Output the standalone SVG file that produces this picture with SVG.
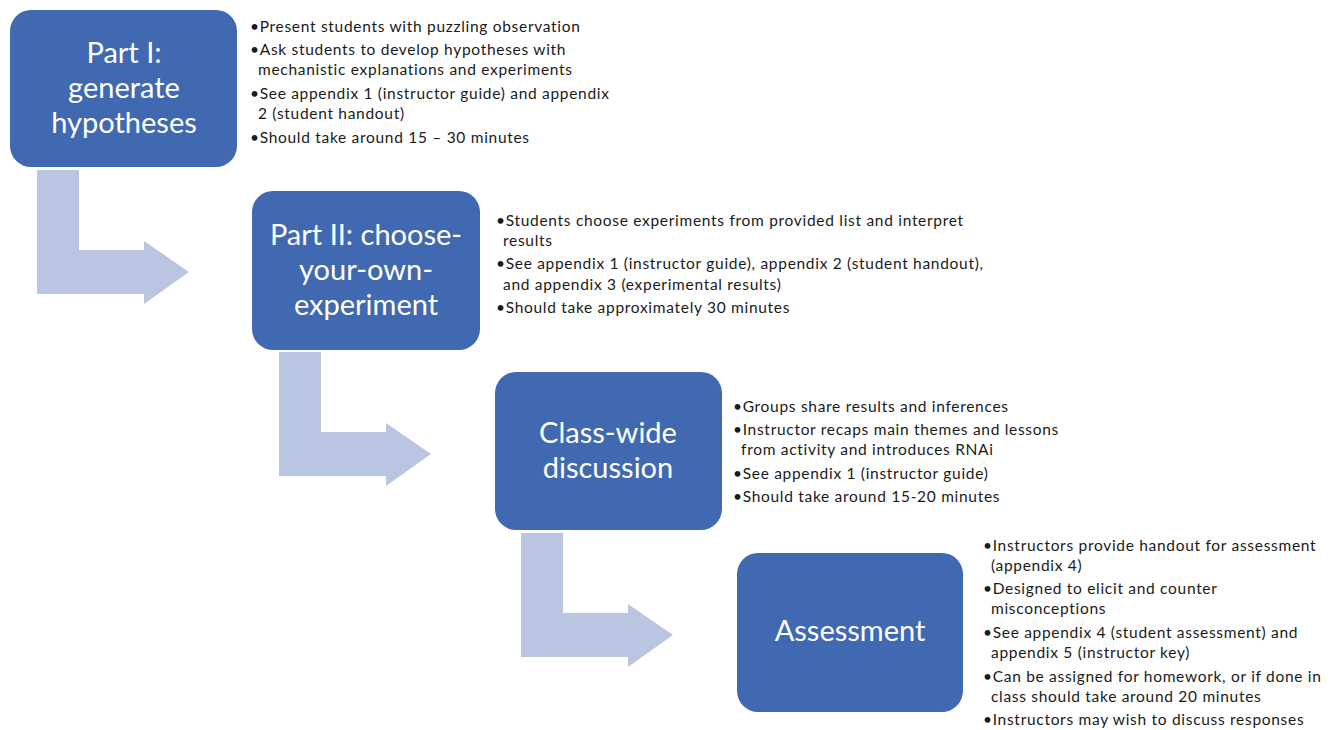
<svg xmlns="http://www.w3.org/2000/svg" width="1335" height="730" viewBox="0 0 1335 730">
<defs>
<style>
.box{fill:#4169B1}
.arrow{fill:#BAC5E1}
.title{font-family:Lato,"Liberation Sans",sans-serif;font-size:29px;fill:#ffffff;text-anchor:middle}
.b{font-family:Lato,"Liberation Sans",sans-serif;font-size:15.5px;letter-spacing:0.7px;fill:#1a1a1a}
</style>
</defs>
<rect width="1335" height="730" fill="#ffffff"/>
<g id="connectors">
<path class="arrow" d="M37,170 H79 V250 H144 V241 L189,272 L144,304 V294 H37 Z"/>
<path class="arrow" d="M279,352 H321 V432 H386 V423 L431,454 L386,486 V476 H279 Z"/>
<path class="arrow" d="M521,533 H563 V613 H628 V604 L673,635 L628,667 V657 H521 Z"/>
</g>
<g id="node1">
<rect class="box" x="10" y="10" width="227" height="157" rx="21"/>
<text class="title" x="124" y="63">Part I:</text>
<text class="title" x="124" y="98">generate</text>
<text class="title" x="124" y="133">hypotheses</text>
</g>
<g id="text1" class="b">
<text x="250" y="32">•Present students with puzzling observation</text>
<text x="250" y="55">•Ask students to develop hypotheses with</text>
<text x="258" y="75">mechanistic explanations and experiments</text>
<text x="250" y="99">•See appendix 1 (instructor guide) and appendix</text>
<text x="258" y="119">2 (student handout)</text>
<text x="250" y="143">•Should take around 15 – 30 minutes</text>
</g>
<g id="node2">
<rect class="box" x="252" y="191" width="228" height="159" rx="21"/>
<text class="title" x="366" y="245">Part II: choose-</text>
<text class="title" x="366" y="280">your-own-</text>
<text class="title" x="366" y="315">experiment</text>
</g>
<g id="text2" class="b">
<text x="496" y="226">•Students choose experiments from provided list and interpret</text>
<text x="503" y="246">results</text>
<text x="496" y="269">•See appendix 1 (instructor guide), appendix 2 (student handout),</text>
<text x="503" y="290">and appendix 3 (experimental results)</text>
<text x="496" y="313">•Should take approximately 30 minutes</text>
</g>
<g id="node3">
<rect class="box" x="495" y="372" width="227" height="158" rx="21"/>
<text class="title" x="608" y="443">Class-wide</text>
<text class="title" x="608" y="478">discussion</text>
</g>
<g id="text3" class="b">
<text x="733" y="412">•Groups share results and inferences</text>
<text x="733" y="435">•Instructor recaps main themes and lessons</text>
<text x="741" y="455">from activity and introduces RNAi</text>
<text x="733" y="479">•See appendix 1 (instructor guide)</text>
<text x="733" y="502">•Should take around 15-20 minutes</text>
</g>
<g id="node4">
<rect class="box" x="737" y="553" width="226" height="159" rx="21"/>
<text class="title" x="850" y="641">Assessment</text>
</g>
<g id="text4" class="b">
<text x="983" y="551">•Instructors provide handout for assessment</text>
<text x="991" y="571">(appendix 4)</text>
<text x="983" y="594">•Designed to elicit and counter</text>
<text x="991" y="614">misconceptions</text>
<text x="983" y="638">•See appendix 4 (student assessment) and</text>
<text x="991" y="658">appendix 5 (instructor key)</text>
<text x="983" y="682">•Can be assigned for homework, or if done in</text>
<text x="991" y="702">class should take around 20 minutes</text>
<text x="983" y="725">•Instructors may wish to discuss responses</text>
</g>
</svg>
